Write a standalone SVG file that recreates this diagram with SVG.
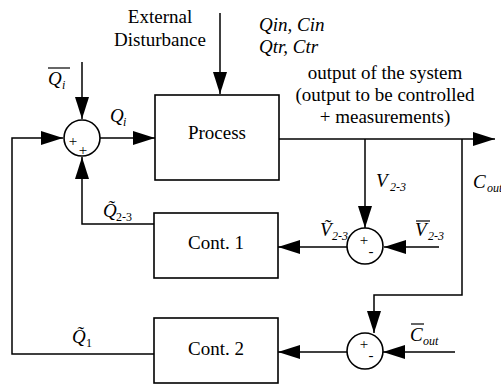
<svg xmlns="http://www.w3.org/2000/svg" width="501" height="385" viewBox="0 0 501 385">
<style>
text{font-family:"Liberation Serif","Times New Roman",serif;font-size:19px;fill:#000}
.it{font-style:italic}
.sub{font-size:12px}
.pm{font-size:15px}
.box{fill:#fff;stroke:#000;stroke-width:1.6}
.sum{fill:#fff;stroke:#000;stroke-width:1.6}
.wire{fill:none;stroke:#000;stroke-width:1.5}
.bar{stroke:#000;stroke-width:1.2}
</style>
<defs>
<marker id="ah" markerUnits="userSpaceOnUse" markerWidth="22" markerHeight="14" refX="22" refY="7" orient="auto">
<path d="M0,0 L22,7 L0,14 z" fill="#000"/>
</marker>
</defs>
<g id="connectors">
<path class="wire" d="M82,62 V119" marker-end="url(#ah)"/>
<path class="wire" d="M154,354 H12 V138 H63" marker-end="url(#ah)"/>
<path class="wire" d="M154,224 H82 V157" marker-end="url(#ah)"/>
<path class="wire" d="M100,138 H155" marker-end="url(#ah)"/>
<path class="wire" d="M220,13 V94" marker-end="url(#ah)"/>
<path class="wire" d="M279,139 H495" marker-end="url(#ah)"/>
<path class="wire" d="M365,139 V228" marker-end="url(#ah)"/>
<path class="wire" d="M462,139 V295 H374 V333" marker-end="url(#ah)"/>
<path class="wire" d="M347,247 H278" marker-end="url(#ah)"/>
<path class="wire" d="M439,247 H384" marker-end="url(#ah)"/>
<path class="wire" d="M347,352 H278" marker-end="url(#ah)"/>
<path class="wire" d="M455,352 H383" marker-end="url(#ah)"/>
</g>
<g id="process">
<rect class="box" x="155" y="95" width="124" height="85"/>
<text x="217" y="139" text-anchor="middle">Process</text>
</g>
<g id="cont1">
<rect class="box" x="154" y="213" width="124" height="65"/>
<text x="216" y="249" text-anchor="middle">Cont. 1</text>
</g>
<g id="cont2">
<rect class="box" x="154" y="318" width="124" height="65"/>
<text x="216" y="355" text-anchor="middle">Cont. 2</text>
</g>
<g id="sum1">
<circle class="sum" cx="82" cy="138" r="18"/>
<text class="pm" x="73" y="146" text-anchor="middle">+</text>
<text class="pm" x="83" y="155" text-anchor="middle">+</text>
</g>
<g id="sum2">
<circle class="sum" cx="365" cy="246" r="18"/>
<text class="pm" x="364" y="245" text-anchor="middle">+</text>
<text class="pm" x="371" y="256" text-anchor="middle">-</text>
</g>
<g id="sum3">
<circle class="sum" cx="365" cy="351" r="18"/>
<text class="pm" x="364" y="349" text-anchor="middle">+</text>
<text class="pm" x="371" y="360" text-anchor="middle">-</text>
</g>
<g id="labels">
<text x="160" y="23" text-anchor="middle">External</text>
<text x="160" y="46" text-anchor="middle">Disturbance</text>
<text class="it" x="259" y="31">Qin, Cin</text>
<text class="it" x="259" y="53">Qtr, Ctr</text>
<text x="385" y="79" text-anchor="middle">output of the system</text>
<text x="385" y="101" text-anchor="middle">(output to be controlled</text>
<text x="385" y="123" text-anchor="middle">+ measurements)</text>
<text class="it" x="48" y="85">Q</text><text class="it sub" x="62" y="89">i</text>
<line class="bar" x1="48" y1="68" x2="70" y2="68"/>
<text class="it" x="110" y="122">Q</text><text class="it sub" x="123" y="126">i</text>
<text class="it" x="103" y="217">Q&#x303;</text><text class="sub" x="116" y="221">2-3</text>
<text class="it" x="72" y="343">Q&#x303;</text><text class="sub" x="86" y="347">1</text>
<text class="it" x="376" y="187">V</text><text class="it sub" x="390" y="191">2-3</text>
<text class="it" x="320" y="236">V&#x303;</text><text class="it sub" x="332" y="240">2-3</text>
<text class="it" x="415" y="236">V</text><text class="it sub" x="428" y="240">2-3</text>
<line class="bar" x1="416" y1="221" x2="430" y2="221"/>
<text class="it" x="410" y="341">C</text><text class="it sub" x="423" y="345">out</text>
<line class="bar" x1="411" y1="324" x2="424" y2="324"/>
<text class="it" x="473" y="188">C</text><text class="it sub" x="487" y="192">out</text>
</g>
</svg>
